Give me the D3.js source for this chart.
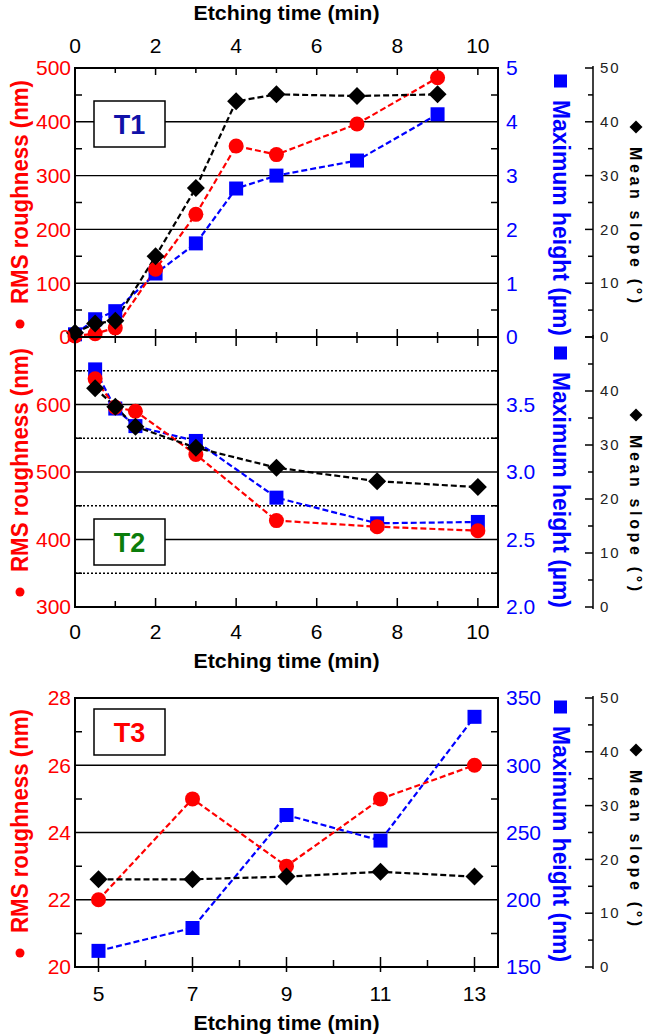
<!DOCTYPE html>
<html>
<head>
<meta charset="utf-8">
<script src="https://d3js.org/d3.v7.min.js"></script>
<style>
body { margin: 0; background: #fff; }
text { font-family: 'Liberation Sans', Arial, sans-serif; }
</style>
</head>
<body>
<script>
// T1 panel
var t1Time = [0, 0.5, 1, 2, 3, 4, 5, 7, 9];
var t1Rms = [2, 6, 17, 126, 228, 355, 339, 396, 482];
var t1Max = [0.05, 0.33, 0.48, 1.18, 1.74, 2.76, 3.0, 3.28, 4.14];
var t1Slope = [0.8, 2.5, 3.0, 15, 27.7, 43.8, 45.1, 44.8, 45.1];

// T2 panel
var t2Time = [0.5, 1, 1.5, 3, 5, 7.5, 10];
var t2Rms = [638, 596, 590, 526, 428, 419, 413];
var t2Max = [3.76, 3.47, 3.34, 3.23, 2.81, 2.62, 2.63];
var t2Slope = [40.5, 37.1, 33.4, 29.5, 25.8, 23.3, 22.2];

// T3 panel
var t3Time = [5, 7, 9, 11, 13];
var t3Rms = [22, 25, 23, 25, 26];
var t3Max = [162, 179, 263, 244, 336];
var t3Slope = [16.3, 16.3, 16.8, 17.7, 16.8];

// tick labels
var timeTicks = [0, 2, 4, 6, 8, 10];
var t3TimeTicks = [5, 7, 9, 11, 13];
var t1RmsTicks = [0, 100, 200, 300, 400, 500];
var t1MaxTicks = [0, 1, 2, 3, 4, 5];
var t2RmsTicks = [300, 400, 500, 600];
var t2MaxTicks = [2.0, 2.5, 3.0, 3.5];
var t3RmsTicks = [20, 22, 24, 26, 28];
var t3MaxTicks = [150, 200, 250, 300, 350];
var slopeTicks = [0, 10, 20, 30, 40, 50];
var t2SlopeTicks = [0, 10, 20, 30, 40];

var RED = '#ff0000', BLUE = '#0000ff';
var X0 = 75, X1 = 498, SX = 593;

var svg = d3.select('body').append('svg')
    .attr('width', 648)
    .attr('height', 1036);

function vtext(x, cy, ang, txt, color, size, len, adj) {
    svg.append('text')
        .attr('transform', 'translate(' + x + ',' + cy + ') rotate(' + ang + ')')
        .attr('text-anchor', 'middle')
        .attr('dy', '0.35em')
        .attr('fill', color)
        .attr('font-weight', 'bold')
        .attr('textLength', len)
        .attr('lengthAdjust', adj)
        .style('font-size', size + 'px')
        .text(txt);
}

function drawPanel(p) {
    var x = d3.scaleLinear().domain(p.xDom).range([X0, X1]),
        yL = d3.scaleLinear().domain(p.lDom).range([p.bot, p.top]),
        yR = d3.scaleLinear().domain(p.rDom).range([p.bot, p.top]),
        yS = d3.scaleLinear().domain([0, 50]).range([p.bot, p.top]);
    var g = svg.append('g');

    // gridlines
    g.selectAll(null).data(p.grid).enter().append('line')
        .attr('x1', X0).attr('x2', X1)
        .attr('y1', function (d) { return yL(d); })
        .attr('y2', function (d) { return yL(d); })
        .attr('stroke', '#000').attr('stroke-width', 1.4);
    g.selectAll(null).data(p.dotted || []).enter().append('line')
        .attr('x1', X0).attr('x2', X1)
        .attr('y1', function (d) { return yL(d); })
        .attr('y2', function (d) { return yL(d); })
        .attr('stroke', '#000').attr('stroke-width', 1.4)
        .attr('stroke-dasharray', '2,2');

    // inside minor ticks, left and right
    g.selectAll(null).data(p.side || []).enter().append('path')
        .attr('d', function (d) {
            return 'M' + X0 + ',' + yL(d) + 'h7M' + X1 + ',' + yL(d) + 'h-7';
        })
        .attr('stroke', '#000').attr('stroke-width', 1.5);

    // time ticks on the horizontal edges
    p.edges.forEach(function (e) {
        g.selectAll(null).data(p.xTicks).enter().append('path')
            .attr('d', function (d) {
                var major = p.isMajor(d),
                    inL = major ? e.maj : e.min,
                    outL = major ? (e.out || 0) : 0;
                return 'M' + x(d) + ',' + (e.y - e.dir * outL) + 'V' + (e.y + e.dir * inL);
            })
            .attr('stroke', '#000').attr('stroke-width', 1.5);
    });

    // frame
    g.append('rect')
        .attr('x', X0).attr('y', p.top)
        .attr('width', X1 - X0).attr('height', p.bot - p.top)
        .attr('fill', 'none').attr('stroke', '#000').attr('stroke-width', 2);

    // dashed lines then markers
    var series = [
        { v: p.max, sc: yR, c: BLUE, shape: 'square' },
        { v: p.rms, sc: yL, c: RED, shape: 'circle' },
        { v: p.slope, sc: yS, c: '#000', shape: 'diamond' }
    ];
    series.forEach(function (s) {
        var line = d3.line()
            .x(function (d, i) { return x(p.time[i]); })
            .y(function (d) { return s.sc(d); });
        g.append('path')
            .attr('d', line(s.v))
            .attr('fill', 'none')
            .attr('stroke', s.c)
            .attr('stroke-width', 2.2)
            .attr('stroke-dasharray', '6,3');
    });
    series.forEach(function (s) {
        var m = g.selectAll(null).data(s.v).enter();
        if (s.shape === 'circle') {
            m.append('circle')
                .attr('cx', function (d, i) { return x(p.time[i]); })
                .attr('cy', function (d) { return s.sc(d); })
                .attr('r', 7.5).attr('fill', s.c);
        } else if (s.shape === 'square') {
            m.append('rect')
                .attr('x', function (d, i) { return x(p.time[i]) - 7; })
                .attr('y', function (d) { return s.sc(d) - 7; })
                .attr('width', 14).attr('height', 14).attr('fill', s.c);
        } else {
            m.append('path')
                .attr('transform', function (d, i) {
                    return 'translate(' + x(p.time[i]) + ',' + s.sc(d) + ')';
                })
                .attr('d', 'M0,-9L9,0L0,9L-9,0Z').attr('fill', s.c);
        }
    });

    // left and right tick labels
    g.selectAll(null).data(p.lTicks).enter().append('text')
        .attr('x', X0 - 4)
        .attr('y', function (d) { return yL(d); })
        .attr('dy', '0.35em')
        .attr('text-anchor', 'end')
        .attr('fill', RED)
        .style('font-size', '21px')
        .text(function (d) { return d; });
    g.selectAll(null).data(p.rTicks).enter().append('text')
        .attr('x', X1 + 8)
        .attr('y', function (d) { return yR(d); })
        .attr('dy', '0.35em')
        .attr('fill', BLUE)
        .style('font-size', '21px')
        .text(p.rFmt);

    // time tick labels
    g.selectAll(null).data(p.xLabels).enter().append('text')
        .attr('x', function (d) { return x(d); })
        .attr('y', p.xLabY)
        .attr('text-anchor', 'middle')
        .style('font-size', '21px')
        .text(function (d) { return d; });
    g.append('text')
        .attr('x', (X0 + X1) / 2)
        .attr('y', p.titleY)
        .attr('text-anchor', 'middle')
        .attr('font-weight', 'bold')
        .attr('textLength', 186)
        .attr('lengthAdjust', 'spacingAndGlyphs')
        .style('font-size', '21px')
        .text('Etching time (min)');

    // mean slope axis
    g.append('line')
        .attr('x1', SX).attr('x2', SX)
        .attr('y1', p.top - 2).attr('y2', p.bot + 2)
        .attr('stroke', '#000').attr('stroke-width', 1.5);
    g.selectAll(null).data([5, 15, 25, 35, 45].concat(slopeTicks)).enter().append('path')
        .attr('d', function (d) {
            return 'M' + SX + ',' + yS(d) + 'h' + (d % 10 === 0 ? -8 : -5);
        })
        .attr('stroke', '#000').attr('stroke-width', 1.5);
    g.selectAll(null).data(p.sTicks).enter().append('text')
        .attr('x', SX + 7)
        .attr('y', function (d) { return yS(d); })
        .attr('dy', '0.35em')
        .style('font-size', '15px')
        .style('letter-spacing', '2px')
        .attr('fill', '#222')
        .text(function (d) { return d; });

    // panel tag
    g.append('rect')
        .attr('x', 94).attr('y', p.boxY)
        .attr('width', 71).attr('height', 46)
        .attr('fill', '#fff').attr('stroke', '#000').attr('stroke-width', 1.5);
    g.append('text')
        .attr('x', 129.5).attr('y', p.boxY + 23)
        .attr('dy', '0.36em')
        .attr('text-anchor', 'middle')
        .attr('font-weight', 'bold')
        .attr('fill', p.tagColor)
        .style('font-size', '27px')
        .text(p.tag);

    // rotated axis titles with their marker keys
    svg.append('circle').attr('cx', 20).attr('cy', p.dotY).attr('r', 4.5).attr('fill', RED);
    vtext(20, p.dotY - 20 - 112, -90, 'RMS roughness (nm)', RED, 23, 224, 'spacingAndGlyphs');
    svg.append('rect').attr('x', 554).attr('y', p.sqY - 6.5).attr('width', 13).attr('height', 13).attr('fill', BLUE);
    vtext(561, p.sqY + 19 + 118, 90, p.maxTitle, BLUE, 23, 236, 'spacingAndGlyphs');
    svg.append('path').attr('transform', 'translate(636,' + p.diaY + ')')
        .attr('d', 'M0,-6.5L6.5,0L0,6.5L-6.5,0Z').attr('fill', '#000');
    vtext(636, p.diaY + 20 + 78, 90, 'Mean slope (\u00b0)', '#000', 16, 156, 'spacing');
}

function major2(d) { return d % 2 === 0; }
function major3(d) { return d % 2 === 1; }

drawPanel({
    top: 68, bot: 337, xDom: [0, 10.5], lDom: [0, 500], rDom: [0, 5],
    time: t1Time, rms: t1Rms, max: t1Max, slope: t1Slope,
    grid: [100, 200, 300, 400], side: [50, 150, 250, 350, 450],
    xTicks: [1, 2, 3, 4, 5, 6, 7, 8, 9, 10], isMajor: major2,
    edges: [{ y: 68, dir: 1, maj: 7, min: 5 }, { y: 337, dir: -1, maj: 8, min: 5 }],
    lTicks: t1RmsTicks, rTicks: t1MaxTicks, rFmt: function (d) { return d; },
    sTicks: slopeTicks, xLabels: timeTicks, xLabY: 53, titleY: 20,
    boxY: 101, tag: 'T1', tagColor: '#1010a8',
    dotY: 324, sqY: 81, diaY: 127, maxTitle: 'Maximum height (\u00b5m)'
});

drawPanel({
    top: 337, bot: 607, xDom: [0, 10.5], lDom: [300, 700], rDom: [2, 4],
    time: t2Time, rms: t2Rms, max: t2Max, slope: t2Slope,
    grid: [400, 500, 600], dotted: [350, 450, 550, 650], side: [350, 450, 550, 650],
    xTicks: [1, 2, 3, 4, 5, 6, 7, 8, 9, 10], isMajor: major2,
    edges: [{ y: 337, dir: 1, maj: 9, min: 6 }, { y: 607, dir: -1, maj: 9, min: 6 }],
    lTicks: t2RmsTicks, rTicks: t2MaxTicks, rFmt: function (d) { return d.toFixed(1); },
    sTicks: t2SlopeTicks, xLabels: timeTicks, xLabY: 639, titleY: 668,
    boxY: 519, tag: 'T2', tagColor: '#0b7d0b',
    dotY: 592, sqY: 353, diaY: 415, maxTitle: 'Maximum height (\u00b5m)'
});

drawPanel({
    top: 698, bot: 967, xDom: [4.5, 13.5], lDom: [20, 28], rDom: [150, 350],
    time: t3Time, rms: t3Rms, max: t3Max, slope: t3Slope,
    grid: [22, 24, 26], side: [21, 23, 25, 27],
    xTicks: [5, 6, 7, 8, 9, 10, 11, 12, 13], isMajor: major3,
    edges: [{ y: 967, dir: -1, maj: 10, min: 7, out: 5 }],
    lTicks: t3RmsTicks, rTicks: t3MaxTicks, rFmt: function (d) { return d; },
    sTicks: slopeTicks, xLabels: t3TimeTicks, xLabY: 1001, titleY: 1030,
    boxY: 709, tag: 'T3', tagColor: RED,
    dotY: 953, sqY: 707, diaY: 750, maxTitle: 'Maximum height (nm)'
});
</script>
</body>
</html>
